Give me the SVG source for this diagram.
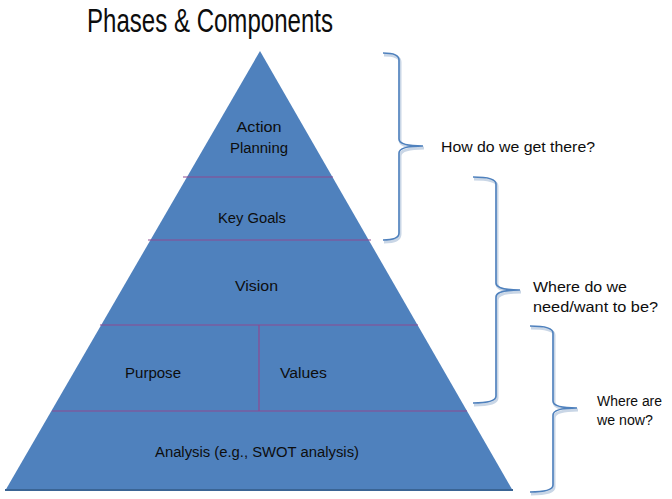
<svg xmlns="http://www.w3.org/2000/svg" width="672" height="499" viewBox="0 0 672 499">
<style>
.t{font-family:"Liberation Sans",Arial,sans-serif;font-size:14px;fill:#0d0d0d;}
.c{text-anchor:middle;}
.sep{stroke:#8E4A92;stroke-width:1.2;fill:none;}
.br{stroke:#4F81BD;stroke-width:1.6;fill:none;}
.brs{stroke:#C9D6E6;stroke-width:3;fill:none;}
</style>
<rect width="672" height="499" fill="#fff"/>
<text x="87" y="32" class="t" style="font-size:33px" textLength="246" lengthAdjust="spacingAndGlyphs">Phases &amp; Components</text>
<g id="pyramid">
<polygon points="260,51 513,491 5,491" fill="#4F81BD"/>
<line x1="5" y1="490" x2="513" y2="490" stroke="#3A6494" stroke-width="2"/>
</g>
<g id="connectors">
<line class="sep" x1="183" y1="177" x2="333" y2="177"/>
<line class="sep" x1="148" y1="240" x2="371" y2="240"/>
<line class="sep" x1="100" y1="325" x2="418" y2="325"/>
<line class="sep" x1="52" y1="411" x2="467" y2="411"/>
<line class="sep" x1="259" y1="325" x2="259" y2="411"/>
</g>
<g id="action-planning">
<text x="259" y="132" class="t c" textLength="45" lengthAdjust="spacingAndGlyphs">Action</text>
<text x="259" y="153" class="t c" textLength="58" lengthAdjust="spacingAndGlyphs">Planning</text>
</g>
<g id="key-goals"><text x="252" y="223" class="t c" textLength="68" lengthAdjust="spacingAndGlyphs">Key Goals</text></g>
<g id="vision"><text x="235" y="291" class="t" textLength="43" lengthAdjust="spacingAndGlyphs">Vision</text></g>
<g id="purpose"><text x="125" y="378" class="t" textLength="56" lengthAdjust="spacingAndGlyphs">Purpose</text></g>
<g id="values"><text x="280" y="378" class="t" textLength="47" lengthAdjust="spacingAndGlyphs">Values</text></g>
<g id="analysis"><text x="155" y="457" class="t" textLength="204" lengthAdjust="spacingAndGlyphs">Analysis (e.g., SWOT analysis)</text></g>
<g id="brace-1">
<path class="brs" d="M384,55 Q400,55 400,62 L400,140 Q400,148 424,148 Q400,148 400,156 L400,234 Q400,242 384,242"/>
<path class="br" d="M383,53 Q399,53 399,60 L399,139 Q399,146 423,146 Q399,146 399,153 L399,233 Q399,240 383,240"/>
<text x="441" y="152" class="t" textLength="154" lengthAdjust="spacingAndGlyphs">How do we get there?</text>
</g>
<g id="brace-2">
<path class="brs" d="M474,179 Q497,179 497,186 L497,284 Q497,292 521,292 Q497,292 497,300 L497,398 Q497,405 474,405"/>
<path class="br" d="M473,177 Q496,177 496,184 L496,283 Q496,290 520,290 Q496,290 496,297 L496,396 Q496,403 473,403"/>
<text x="533" y="292" class="t" textLength="94" lengthAdjust="spacingAndGlyphs">Where do we</text>
<text x="533" y="312" class="t" textLength="125" lengthAdjust="spacingAndGlyphs">need/want to be?</text>
</g>
<g id="brace-3">
<path class="brs" d="M531,328 Q554,328 554,335 L554,402 Q554,410 578,410 Q554,410 554,418 L554,487 Q554,494 531,494"/>
<path class="br" d="M530,326 Q553,326 553,333 L553,401 Q553,408 577,408 Q553,408 553,415 L553,485 Q553,492 530,492"/>
<text x="597" y="406" class="t" textLength="65" lengthAdjust="spacingAndGlyphs">Where are</text>
<text x="597" y="425" class="t" textLength="56" lengthAdjust="spacingAndGlyphs">we now?</text>
</g>
</svg>
